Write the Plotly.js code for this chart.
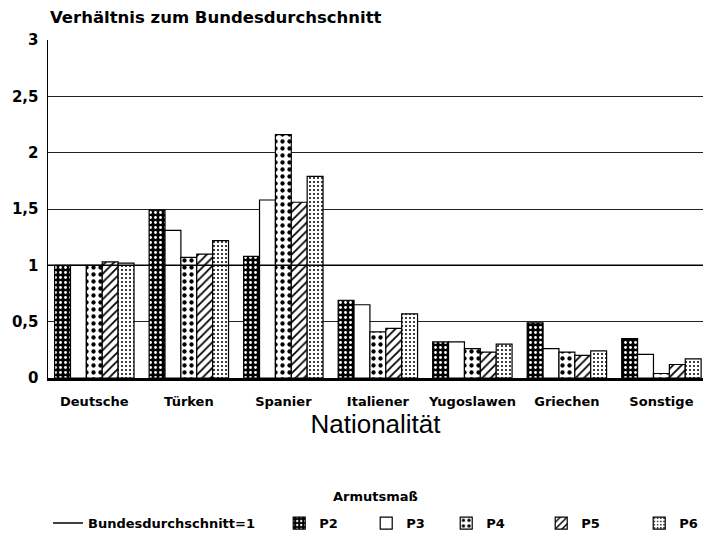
<!DOCTYPE html>
<html>
<head>
<meta charset="utf-8">
<script src="https://cdn.plot.ly/plotly-3.0.1.min.js"></script>
<style>html,body{margin:0;padding:0;background:#fff;}#chart{width:703px;height:541px;}</style>
</head>
<body>
<div id="chart"></div>
<script>
// ---- data ----
const categories = ["Deutsche", "Türken", "Spanier", "Italiener", "Yugoslawen", "Griechen", "Sonstige"];
const P2 = [1.00, 1.49, 1.08, 0.69, 0.32, 0.49, 0.35];
const P3 = [1.00, 1.31, 1.58, 0.65, 0.32, 0.26, 0.21];
const P4 = [1.00, 1.07, 2.16, 0.41, 0.26, 0.23, 0.04];
const P5 = [1.03, 1.10, 1.56, 0.44, 0.23, 0.20, 0.12];
const P6 = [1.02, 1.22, 1.79, 0.57, 0.30, 0.24, 0.17];
const seriesNames = ["P2", "P3", "P4", "P5", "P6"];
const bundesdurchschnitt = 1;
const yTickVals = [0, 0.5, 1, 1.5, 2, 2.5, 3];
const yTickText = ["0", "0,5", "1", "1,5", "2", "2,5", "3"];

const boldFont = "DejaVu Sans";
const seriesValues = [P2, P3, P4, P5, P6];
const patterns = [
  {shape: ".", bgcolor: "#000", fgcolor: "#fff", size: 5, solidity: 0.25},
  {shape: "", bgcolor: "#fff", fgcolor: "#000", size: 6, solidity: 0.3},
  {shape: ".", bgcolor: "#fff", fgcolor: "#000", size: 7, solidity: 0.3},
  {shape: "/", bgcolor: "#fff", fgcolor: "#000", size: 6, solidity: 0.3},
  {shape: ".", bgcolor: "#fff", fgcolor: "#000", size: 4, solidity: 0.2}
];
const legendWidths = [42, 35, 50, 53, 20];

const traces = [{
  type: "scatter", mode: "lines",
  x: [0, 1], y: [bundesdurchschnitt, bundesdurchschnitt],
  xaxis: "x2", yaxis: "y",
  name: "Bundesdurchschnitt=1",
  line: {color: "#000", width: 1.5},
  legend: "legend",
  hoverinfo: "skip"
}];
seriesNames.forEach((n, i) => {
  traces.push({
    type: "bar", x: categories, y: seriesValues[i], name: n,
    marker: {
      color: patterns[i].bgcolor,
      line: {color: "#000", width: 1.2},
      pattern: patterns[i].shape ? {
        shape: patterns[i].shape, bgcolor: patterns[i].bgcolor, fgcolor: patterns[i].fgcolor,
        size: patterns[i].size, solidity: patterns[i].solidity, fillmode: "replace"
      } : undefined
    },
    legend: "legend2",
    legendwidth: legendWidths[i]
  });
});

const legendFont = {family: boldFont, size: 13, color: "#000", weight: "bold"};
const layout = {
  width: 703, height: 541,
  margin: {l: 48, r: 0, t: 40, b: 163, pad: 0, autoexpand: false},
  paper_bgcolor: "#fff", plot_bgcolor: "#fff",
  separators: ",.",
  barmode: "group", bargap: 0.16, bargroupgap: 0,
  showlegend: true,
  title: {
    text: "<b>Verhältnis zum Bundesdurchschnitt</b>",
    font: {family: boldFont, size: 16.5, color: "#000"},
    x: 0.003, xref: "paper", xanchor: "left",
    y: 0.969, yref: "container", yanchor: "middle"
  },
  xaxis: {
    type: "category", range: [-0.49, 6.44],
    showgrid: false, zeroline: false,
    showline: true, linecolor: "#000", linewidth: 2.5,
    ticks: "", ticklabelstandoff: 10,
    tickfont: {family: boldFont, size: 13, color: "#000", weight: "bold"},
    title: {text: "Nationalität", font: {family: "Liberation Sans", size: 26, color: "#000"}, standoff: 4},
    fixedrange: true
  },
  xaxis2: {overlaying: "x", range: [0, 1], visible: false, fixedrange: true},
  yaxis: {
    range: [0, 3], tickvals: yTickVals, ticktext: yTickText,
    showgrid: true, gridcolor: "#222", gridwidth: 1,
    zeroline: false, showline: true, linecolor: "#000", linewidth: 1.5,
    ticks: "", ticklabelstandoff: 5,
    tickfont: {family: boldFont, size: 15, color: "#000", weight: "bold"},
    fixedrange: true
  },
  legend: {
    orientation: "h", x: 0.0, xanchor: "left", y: -0.385, yanchor: "top",
    font: legendFont, bgcolor: "rgba(0,0,0,0)"
  },
  legend2: {
    orientation: "h", x: 0.353, xanchor: "left", y: -0.385, yanchor: "top",
    font: legendFont, bgcolor: "rgba(0,0,0,0)", traceorder: "normal"
  },
  annotations: [{
    text: "<b>Armutsmaß</b>", xref: "paper", yref: "paper",
    x: 0.5, y: -0.35, xanchor: "center", yanchor: "middle", showarrow: false,
    font: {family: boldFont, size: 13, color: "#000"}
  }]
};

Plotly.newPlot("chart", traces, layout, {displayModeBar: false, staticPlot: true});
</script>
</body>
</html>
